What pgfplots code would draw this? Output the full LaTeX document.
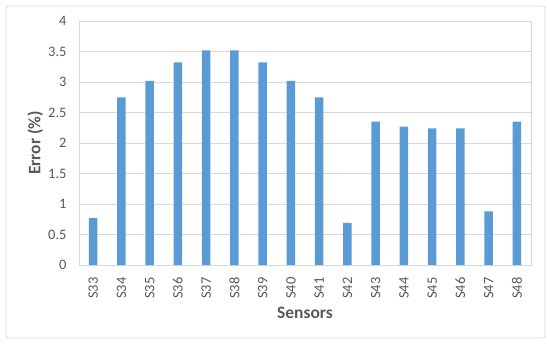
\documentclass[border=0pt]{standalone}
\usepackage{fontspec}
\setmainfont{Carlito}
\usepackage{pgfplots}
\pgfplotsset{compat=1.18}
\definecolor{barblue}{HTML}{5B9BD5}
\definecolor{gridgray}{HTML}{D9D9D9}
\definecolor{txtgray}{HTML}{595959}
\begin{document}
\begin{tikzpicture}[x=1bp,y=1bp]
% page size and outer chart frame (axis origin sits at 79,80 from lower left)
\path (-79,-80) rectangle (471,265);
\draw[gridgray, line width=0.8bp, rounded corners=2bp] (-73,-73) rectangle (466,259);
\begin{axis}[
    at={(0,0)}, anchor=south west,
    scale only axis, width=452bp, height=244bp,
    xmin=-0.5, xmax=15.5, ymin=0, ymax=4,
    xtick={0,...,15},
    xticklabels={S33,S34,S35,S36,S37,S38,S39,S40,S41,S42,S43,S44,S45,S46,S47,S48},
    ytick={0,0.5,...,4},
    major tick length=0pt,
    ymajorgrids, grid style={gridgray, line width=0.8bp},
    axis line style={gridgray, line width=0.8bp},
    ticklabel style={font=\fontsize{14.5}{17}\selectfont, text=txtgray},
    /pgf/number format/assume math mode=true,
    yticklabel style={/pgf/number format/fixed, xshift=-9bp},
    xticklabel style={rotate=90, anchor=east, xshift=-9bp},
    label style={font=\bfseries\fontsize{17.5}{20}\selectfont, text=txtgray},
    xlabel={Sensors}, ylabel={Error (\%)},
    xlabel style={at={(axis description cs:0.5,-0.197)}, anchor=center},
    ylabel style={at={(axis description cs:-0.097,0.5)}, anchor=center},
]
\addplot[ybar, bar width=8.5bp, fill=barblue, draw=none] coordinates {
    (0,0.77) (1,2.75) (2,3.02) (3,3.32) (4,3.52) (5,3.52) (6,3.32) (7,3.02)
    (8,2.75) (9,0.69) (10,2.35) (11,2.27) (12,2.24) (13,2.24) (14,0.88) (15,2.35)
};
\end{axis}
\end{tikzpicture}
\end{document}
